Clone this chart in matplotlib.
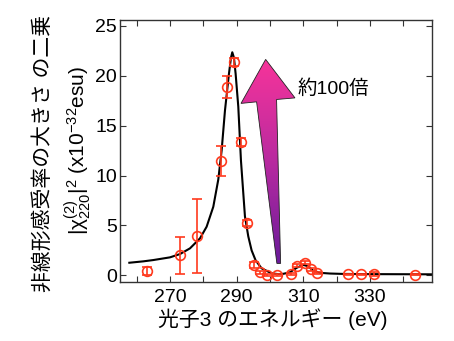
import matplotlib
matplotlib.use("Agg")
import matplotlib.pyplot as plt
import numpy as np
from matplotlib.patches import Polygon

plt.rcParams['font.family'] = ['Liberation Sans', 'Noto Sans CJK JP']
plt.rcParams['mathtext.default'] = 'regular'

# 測定点 (eV, 値, 誤差)
energy = [263.0, 273.0, 278.0, 285.2, 287.1, 289.2, 291.2, 293.1, 295.2, 297.0,
          299.2, 302.2, 306.3, 308.0, 310.4, 312.2, 314.2, 323.5, 327.3, 331.3, 343.5]
chi2 = [0.46, 2.03, 3.94, 11.45, 18.84, 21.37, 13.4, 5.2, 1.0, 0.3,
        0.0, 0.0, 0.1, 0.96, 1.25, 0.6, 0.26, 0.1, 0.1, 0.18, 0.05]
chi2_err = [0.4, 1.85, 3.7, 1.5, 1.1, 0.4, 0.4, 0.3, 0.3, 0.12,
            0.1, 0.1, 0.1, 0.15, 0.15, 0.15, 0.1, 0.05, 0.05, 0.2, 0.05]

# フィット曲線
fit_e = [257.8, 262.0, 265.0, 270.0, 273.0, 276.0, 279.0, 281.0, 283.0, 284.5,
         285.5, 286.5, 287.7, 288.3, 288.7, 289.2, 289.7, 290.5, 291.3, 292.5,
         293.5, 294.5, 295.7, 297.5, 300.5, 302.5, 304.0, 306.0, 308.0, 310.0,
         311.5, 313.0, 315.0, 318.0, 322.0, 330.0, 340.0, 348.6]
fit_v = [1.26, 1.4, 1.53, 1.8, 2.13, 2.7, 3.7, 4.87, 6.87, 9.6,
         12.5, 16.5, 20.2, 21.8, 22.35, 21.8, 20.2, 16.9, 11.5, 5.9,
         3.9, 2.5, 1.5, 0.7, 0.2, 0.12, 0.15, 0.3, 0.75, 1.05,
         0.9, 0.45, 0.25, 0.18, 0.14, 0.12, 0.11, 0.1]

xticks = [260, 270, 280, 290, 300, 310, 320, 330, 340]
xticklabels = ['', '270', '', '290', '', '310', '', '330', '']
yticks = [0, 5, 10, 15, 20, 25]

red = '#ff3a1e'

fig = plt.figure(figsize=(4.54, 3.41), dpi=100)
ax = fig.add_axes([0.2643, 0.173, 0.687, 0.768])

ax.plot(fit_e, fit_v, color='black', lw=1.5, zorder=2)
ax.errorbar(energy, chi2, yerr=chi2_err, fmt='o', mfc='none', mec=red, color=red,
            ms=7, mew=1.2, elinewidth=1.2, capsize=3.5, capthick=1.2, zorder=3)

ax.set_xlim(255, 348.6)
ax.set_ylim(-0.67, 25.57)
ax.set_xticks(xticks)
ax.set_xticklabels(xticklabels)
ax.set_yticks(yticks)
ax.tick_params(direction='in', top=True, right=True, length=4, width=0.8,
               labelsize=14, color='#333333')
ax.tick_params(axis='x', pad=5)
ax.tick_params(axis='y', pad=2)
for s in ax.spines.values():
    s.set_color('#333333')
    s.set_linewidth(1.0)

# グラデーションの矢印
arrow_pts = [(0.467, 0.850), (0.561, 0.703), (0.502, 0.697), (0.515, 0.071),
             (0.503, 0.071), (0.438, 0.688), (0.388, 0.682)]
poly = Polygon(arrow_pts, closed=True, transform=ax.transAxes, facecolor='none',
               edgecolor='#222222', lw=0.6, zorder=4)
ax.add_patch(poly)
grad = np.linspace(1, 0, 256).reshape(-1, 1)
cmap = matplotlib.colors.LinearSegmentedColormap.from_list(
    'pp', ['#6a1b9a', '#b82aa0', '#f7349a'])
img = ax.imshow(grad, cmap=cmap, aspect='auto', extent=(0.38, 0.57, 0.07, 0.85),
                transform=ax.transAxes, zorder=3.5)
img.set_clip_path(poly)

ax.text(0.570, 0.740, '約100倍', transform=ax.transAxes, fontsize=14,
        va='center', ha='left')

fig.text(0.600, 0.064, '光子3 のエネルギー (eV)', fontsize=15, ha='center', va='center')
fig.text(0.095, 0.551, '非線形感受率の大きさ の二乗', fontsize=15, rotation=90,
         ha='center', va='center')
fig.text(0.170, 0.560, r'$|\chi_{220}^{(2)}|^2$ (x10$^{-32}$esu)', fontsize=15,
         rotation=90, ha='center', va='center')

fig.savefig('out.png', dpi=100)
